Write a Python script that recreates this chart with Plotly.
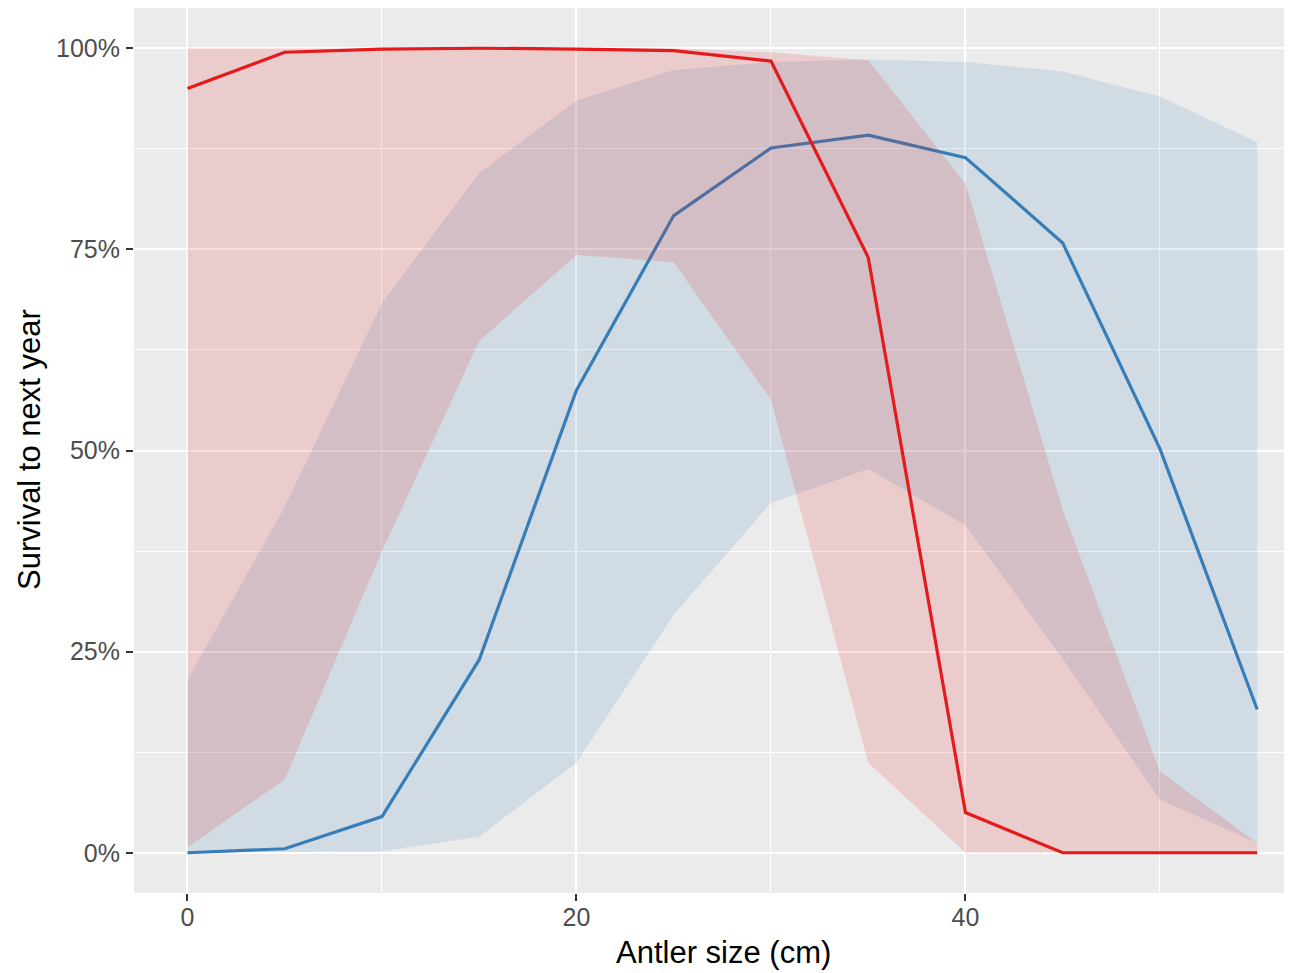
import plotly.graph_objects as go

# ---- data ----
antler_size = [0, 5, 10, 15, 20, 25, 30, 35, 40, 45, 50, 55]

red_mid = [0.950, 0.995, 0.999, 1.000, 0.999, 0.997, 0.984, 0.740, 0.050, 0.0, 0.0, 0.0]
red_hi = [1.0, 1.0, 1.0, 1.0, 1.0, 1.0, 0.995, 0.985, 0.832, 0.426, 0.101, 0.012]
red_lo = [0.007, 0.091, 0.375, 0.636, 0.743, 0.734, 0.563, 0.112, 0.0, 0.0, 0.0, 0.0]

blue_mid = [0.0, 0.005, 0.045, 0.240, 0.575, 0.792, 0.876, 0.892, 0.864, 0.758, 0.502, 0.178]
blue_hi = [0.215, 0.43, 0.683, 0.845, 0.935, 0.973, 0.983, 0.986, 0.983, 0.971, 0.940, 0.883]
blue_lo = [0.0, 0.001, 0.002, 0.020, 0.112, 0.296, 0.435, 0.477, 0.407, 0.241, 0.066, 0.012]

y_ticks = [0, 0.25, 0.5, 0.75, 1.0]
y_minor = [0.125, 0.375, 0.625, 0.875]
x_ticks = [0, 20, 40]
x_minor = [10, 30, 50]

RED = "#E41A1C"
BLUE = "#377EB8"
RED_FILL = "rgba(228,26,28,0.15)"
BLUE_FILL = "rgba(55,126,184,0.14)"


def ribbon(lo, hi, fill):
    return go.Scatter(
        x=antler_size + antler_size[::-1],
        y=hi + lo[::-1],
        fill="toself",
        fillcolor=fill,
        line=dict(width=0),
        mode="lines",
        hoverinfo="skip",
        showlegend=False,
    )


fig = go.Figure()
fig.add_trace(ribbon(blue_lo, blue_hi, BLUE_FILL))
fig.add_trace(go.Scatter(x=antler_size, y=blue_mid, mode="lines",
                         line=dict(color=BLUE, width=3.2), showlegend=False))
fig.add_trace(ribbon(red_lo, red_hi, RED_FILL))
fig.add_trace(go.Scatter(x=antler_size, y=red_mid, mode="lines",
                         line=dict(color=RED, width=3.2), showlegend=False))

# page has an 8px body margin; the panel runs past the right edge as in the reference
W, H = 1292, 965
ml, mr, mt, mb = 126, 0, 0, 80

fig.update_layout(
    width=W, height=H,
    margin=dict(l=ml, r=mr, t=mt, b=mb, pad=0, autoexpand=False),
    paper_bgcolor="white",
    plot_bgcolor="#EBEBEB",
    font=dict(family="Liberation Sans, Arial, sans-serif", color="#4D4D4D"),
    showlegend=False,
)

fig.update_xaxes(
    range=[-2.75, 57.2],
    tickvals=x_ticks,
    ticktext=[str(v) for v in x_ticks],
    showgrid=True, gridcolor="white", gridwidth=2,
    minor=dict(tickvals=x_minor, showgrid=True, gridcolor="white", gridwidth=1, ticks=""),
    zeroline=False, showline=False,
    ticks="outside", ticklen=7, tickwidth=2, tickcolor="#333333",
    tickfont=dict(size=25, color="#4D4D4D"),
    ticklabelstandoff=-5,
)
fig.update_yaxes(
    range=[-0.05, 1.05],
    tickvals=y_ticks,
    tickformat=".0%",
    showgrid=True, gridcolor="white", gridwidth=2,
    minor=dict(tickvals=y_minor, showgrid=True, gridcolor="white", gridwidth=1, ticks=""),
    zeroline=False, showline=False,
    ticks="outside", ticklen=7, tickwidth=2, tickcolor="#333333",
    tickfont=dict(size=25, color="#4D4D4D"),
    ticklabelstandoff=1,
)

# axis titles placed as annotations (pixel-precise, figure coordinates)
plot_w = W - ml - mr
plot_h = H - mt - mb
fig.add_annotation(
    text="Antler size (cm)", xref="paper", yref="paper",
    x=(715 - ml) / plot_w, y=-(944 - (H - mb)) / plot_h,
    showarrow=False, xanchor="center", yanchor="middle",
    font=dict(size=31, color="black", family="Liberation Sans, Arial, sans-serif"),
)
fig.add_annotation(
    text="Survival to next year", xref="paper", yref="paper",
    x=-(ml - 21) / plot_w, y=1 - (442 - mt) / plot_h,
    showarrow=False, xanchor="center", yanchor="middle", textangle=-90,
    font=dict(size=31, color="black", family="Liberation Sans, Arial, sans-serif"),
)

fig.write_html("out.html")
